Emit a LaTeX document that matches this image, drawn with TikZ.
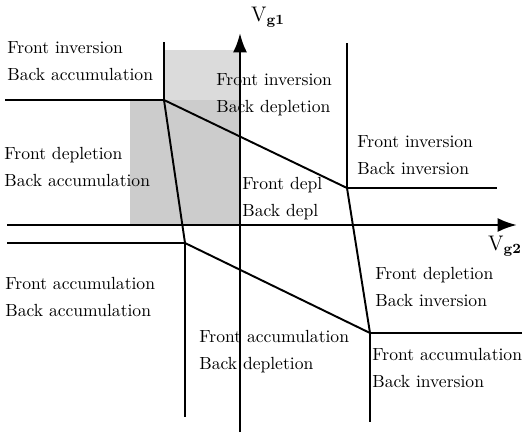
\documentclass[tikz,border=0pt]{standalone}
\usetikzlibrary{arrows.meta}
\begin{document}
\begin{tikzpicture}[x=0.02cm,y=-0.02cm,
    region/.style={anchor=west,align=left,inner sep=0pt,font=\fontsize{10}{15.3}\selectfont},
    border/.style={line width=0.7pt},
    slope/.style={line width=1.1pt},
    axis/.style={line width=1.5pt,-{Latex[length=11pt,width=8pt]}}]
    \useasboundingbox (0,0) rectangle (527,433);
    % shaded area
    \fill[black!20] (130,100) rectangle (240,225);
    \fill[black!14] (163,50) rectangle (240,100);
    % region labels
    \node[region] (fiba) at (7,61) {Front inversion\\Back accumulation};
    \node[region] (fdba) at (4,167) {Front depletion\\Back accumulation};
    \node[region] (fibd) at (216,95) {Front inversion\\Back depletion};
    \node[region] (fibi) at (357,155) {Front inversion\\Back inversion};
    \node[region] (fdbd) at (242,199) {Front depl\\Back depl};
    \node[region] (faba) at (5,297) {Front accumulation\\Back accumulation};
    \node[region] (fdbi) at (375,287) {Front depletion\\Back inversion};
    \node[region] (fabd) at (199,352) {Front accumulation\\Back depletion};
    \node[region] (fabi) at (372,368) {Front accumulation\\Back inversion};
    % corners
    \coordinate (P) at (164,100);
    \coordinate (Q) at (347,188);
    \coordinate (R) at (185,243);
    \coordinate (S) at (370,333);
    \coordinate (Pl) at (5,100);
    \coordinate (Pt) at (164,42);
    \coordinate (Qt) at (347,43);
    \coordinate (Qr) at (497,188);
    \coordinate (Rl) at (7,243);
    \coordinate (Rb) at (185,417);
    \coordinate (Sr) at (522,333);
    \coordinate (Sb) at (370,422);
    % boundaries
    \draw[border] (Pl) -- (P) -- (Pt);
    \draw[border] (Qt) -- (Q) -- (Qr);
    \draw[border] (Rl) -- (R) -- (Rb);
    \draw[border] (Sr) -- (S) -- (Sb);
    \draw[slope] (P) -- (Q);
    \draw[slope] (R) -- (S);
    \draw[slope] (P) -- (R);
    \draw[slope] (Q) -- (S);
    % axes
    \coordinate (xl) at (7,225);
    \coordinate (xr) at (517,225);
    \coordinate (yb) at (240,432);
    \coordinate (yt) at (240,33);
    \draw[axis] (xl) -- (xr);
    \draw[axis] (yb) -- (yt);
    \node[font=\fontsize{12}{14}\selectfont] (vg1) at (268,17) {V$_{\mathbf{g1}}$};
    \node[font=\fontsize{12}{14}\selectfont] (vg2) at (505,246) {V$_{\mathbf{g2}}$};
\end{tikzpicture}
\end{document}
